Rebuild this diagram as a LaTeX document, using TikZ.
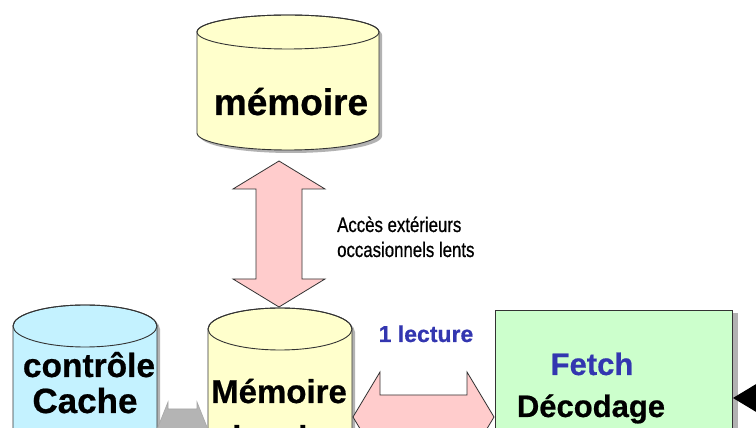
\documentclass[tikz,border=0pt]{standalone}
\usepackage{fontspec}
\setmainfont{Liberation Sans}[BoldFeatures={FakeBold=0.6}]
\newfontfamily\narrowfont[FakeStretch=0.8,FakeBold=0.7]{Liberation Sans}
\usetikzlibrary{arrows.meta,calc}

\definecolor{memfill}{HTML}{FFFFCC}
\definecolor{cachefill}{HTML}{C4F2FF}
\definecolor{unitfill}{HTML}{CCFFCC}
\definecolor{busfill}{HTML}{FFCCCC}
\definecolor{ctlfill}{HTML}{B4B4B4}
\definecolor{edge}{HTML}{333333}
\definecolor{bluetxt}{HTML}{3336B0}

% cylinder outline: centre x, half width, top-ellipse y, bottom-ellipse y, ellipse y radius
\newcommand\cylpath[5]{(#1-#2,#3) -- (#1-#2,#4)
  arc[start angle=180,end angle=360,x radius=#2pt,y radius=#5pt]
  -- (#1+#2,#3)
  arc[start angle=0,end angle=180,x radius=#2pt,y radius=#5pt] -- cycle}
% a cylinder with its drop shadow and the rim of its lid
\newcommand\cylinder[6]{%
  \fill[shade] [shift={(3,-3)}] \cylpath{#1}{#2}{#3}{#4}{#5};
  \filldraw[outline, fill=#6] \cylpath{#1}{#2}{#3}{#4}{#5};
  \draw[outline] (#1,#3) ellipse[x radius=#2pt,y radius=#5pt];}

\begin{document}
\begin{tikzpicture}[x=1pt,y=1pt,
  outline/.style={draw=edge, line width=0.9pt},
  shade/.style={fill=black!30},
  bigtxt/.style={inner sep=0pt, anchor=base, font=\bfseries\fontsize{#1}{#1}\selectfont},
  smalltxt/.style={inner sep=0pt, anchor=base west, font=\narrowfont\fontsize{21}{21}\selectfont},
  busarrow/.style={fill=busfill, draw=edge, line width=0.8pt, line join=miter},
  ctlarrow/.style={fill=ctlfill, draw=black!35, line width=0.6pt},
]
\useasboundingbox (0,0) rectangle (756,428);
\clip (0,0) rectangle (756,428);
\fill[white] (0,0) rectangle (756,428);

% storage elements
\cylinder{288}{91}{396}{295}{17}{memfill}
\cylinder{280}{72}{99}{-80}{21}{memfill}
\cylinder{85}{72}{102}{-80}{21}{cachefill}

% processing unit
\fill[shade] (498,115) rectangle (738,-120);
\node[outline, fill=unitfill, minimum width=237pt, minimum height=230pt,
      inner sep=0pt, anchor=north west] (unit) at (495,118) {};

% labels of the storage elements
\node[bigtxt=37] (memlbl) at (291,313) {mémoire};
\node[bigtxt=33.5] (ctllbl) at (89,51) {contrôle};
\node[bigtxt=35] (cachelbl) at (85,15) {Cache};
\node[bigtxt=33] (loclbl) at (279,25) {Mémoire};
\node[bigtxt=33] (loclblb) at (279,-21) {locale};

% labels of the processing unit
\node[bigtxt=31, text=bluetxt] (fetchlbl) at (592,53) {Fetch};
\node[bigtxt=31] (decodelbl) at (591,11) {Décodage};
\node[bigtxt=31] (execlbl) at (591,-26) {exécution};

% slow external access between the two memories
\coordinate (va) at (279,194);
\filldraw[busarrow, shift={(va)}]
  (0,73) -- (46,45) -- (23,45) -- (23,-45) -- (46,-45) -- (0,-73)
  -- (-46,-45) -- (-23,-45) -- (-23,45) -- (-46,45) -- cycle;
\node[smalltxt] (acclbl) at (337,196) {Accès extérieurs};
\node[smalltxt] (acclblb) at (337,171) {occasionnels lents};

% read path from the local memory to the processing unit
\coordinate (ha) at (423.5,11);
\filldraw[busarrow, shift={(ha)}]
  (-70.5,0) -- (-43.5,45) -- (-43.5,22) -- (43.5,22) -- (43.5,45) -- (70.5,0)
  -- (43.5,-45) -- (43.5,-22) -- (-43.5,-22) -- (-43.5,-45) -- cycle;
\node[bigtxt=23, text=bluetxt] (readlbl) at (426,86) {1 lecture};

% link between cache control and local memory
\coordinate (ga) at (182,-4);
\filldraw[ctlarrow, shift={(ga)}]
  (-26,0) -- (-14,30) -- (-14,23) -- (15,23) -- (15,30) -- (27,0)
  -- (15,-30) -- (15,-23) -- (-14,-23) -- (-14,-30) -- cycle;

% incoming arrow on the right side of the processing unit
\coordinate (insrc) at (820,30);
\draw[line width=4pt, -{Triangle[length=30pt,width=35pt]}]
  (insrc) -- (unit.east |- insrc);
\end{tikzpicture}
\end{document}
